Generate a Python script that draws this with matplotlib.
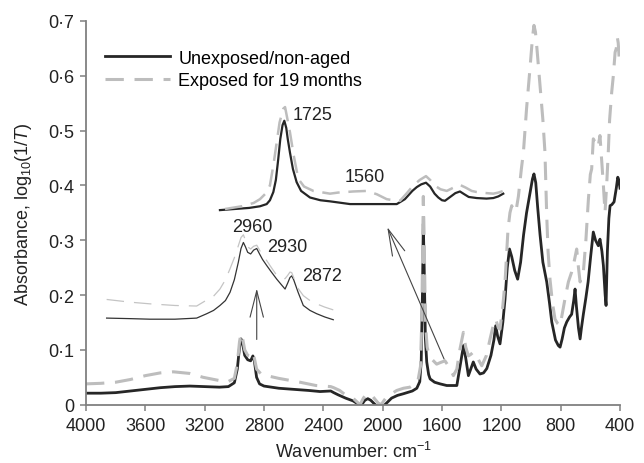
import matplotlib
matplotlib.use("Agg")
import matplotlib.pyplot as plt
from matplotlib.ticker import FuncFormatter

plt.rcParams["font.family"] = ["Liberation Sans", "DejaVu Sans"]
plt.rcParams["mathtext.fontset"] = "custom"
plt.rcParams["mathtext.rm"] = "Liberation Sans"
plt.rcParams["mathtext.it"] = "Liberation Sans:italic"

# full spectra (wavenumber, absorbance)
wn_unexp = [4000, 3900, 3800, 3700, 3600, 3500, 3400, 3300, 3200, 3100, 3040, 3000, 2980, 2965,
            2955, 2945, 2930, 2910, 2890, 2875, 2865, 2850, 2830, 2800, 2700, 2600, 2500, 2422,
            2350, 2330, 2300, 2250, 2200, 2170, 2150, 2120, 2100, 2080, 2050, 2020, 2000, 1970,
            1940, 1900, 1860, 1800, 1770, 1750, 1740, 1732, 1726, 1720, 1712, 1703, 1690, 1680,
            1650, 1613, 1568, 1500, 1478, 1455, 1440, 1422, 1400, 1389, 1370, 1344, 1320, 1298,
            1270, 1250, 1238, 1225, 1209, 1190, 1175, 1160, 1145, 1130, 1110, 1090, 1070, 1050,
            1030, 1007, 990, 980, 968, 955, 939, 920, 894, 875, 860, 835, 816, 804, 790, 775, 759,
            740, 726, 712, 703, 694, 680, 669, 660, 647, 630, 615, 598, 580, 565, 546, 535, 522,
            512, 500, 494, 485, 475, 467, 455, 440, 425, 415, 408, 400]
abs_unexp = [0.021, 0.021, 0.022, 0.025, 0.028, 0.031, 0.033, 0.034, 0.033, 0.032, 0.033, 0.040,
             0.065, 0.105, 0.120, 0.112, 0.090, 0.082, 0.080, 0.089, 0.080, 0.050, 0.038, 0.034,
             0.030, 0.028, 0.026, 0.024, 0.025, 0.022, 0.018, 0.012, 0.007, 0.002, -0.003, 0.008,
             0.011, 0.008, 0.000, -0.005, -0.004, 0.004, 0.012, 0.017, 0.020, 0.025, 0.030, 0.042,
             0.080, 0.200, 0.330, 0.250, 0.120, 0.078, 0.055, 0.047, 0.041, 0.038, 0.035, 0.035,
             0.071, 0.108, 0.085, 0.053, 0.070, 0.078, 0.065, 0.056, 0.058, 0.066, 0.090, 0.118,
             0.144, 0.125, 0.111, 0.150, 0.193, 0.250, 0.284, 0.270, 0.245, 0.229, 0.260, 0.310,
             0.350, 0.385, 0.412, 0.421, 0.405, 0.360, 0.310, 0.260, 0.224, 0.185, 0.151, 0.118,
             0.108, 0.105, 0.120, 0.140, 0.151, 0.160, 0.165, 0.190, 0.211, 0.180, 0.140, 0.120,
             0.140, 0.165, 0.195, 0.224, 0.270, 0.315, 0.300, 0.290, 0.302, 0.280, 0.254, 0.200,
             0.181, 0.280, 0.340, 0.363, 0.365, 0.370, 0.395, 0.415, 0.410, 0.395]

wn_exp = [4000, 3900, 3800, 3700, 3600, 3500, 3411, 3300, 3211, 3100, 3050, 3000, 2980, 2965, 2955,
          2945, 2930, 2910, 2890, 2875, 2865, 2850, 2820, 2782, 2700, 2557, 2450, 2350, 2330, 2290,
          2242, 2200, 2153, 2130, 2108, 2085, 2064, 2030, 2010, 1990, 1973, 1940, 1905, 1860, 1816,
          1780, 1762, 1745, 1736, 1730, 1726, 1720, 1712, 1700, 1692, 1665, 1636, 1610, 1580, 1550,
          1523, 1500, 1480, 1456, 1440, 1422, 1405, 1389, 1360, 1332, 1300, 1276, 1250, 1238, 1220,
          1209, 1190, 1175, 1155, 1142, 1130, 1115, 1100, 1085, 1065, 1051, 1030, 1007, 990, 980,
          970, 960, 939, 920, 906, 894, 885, 872, 855, 838, 820, 804, 790, 771, 748, 726, 710, 692,
          680, 669, 658, 647, 630, 613, 600, 591, 580, 570, 560, 546, 535, 523, 512, 501, 490, 479,
          470, 456, 445, 433, 425, 418, 412, 404, 400]
abs_exp = [0.038, 0.039, 0.041, 0.046, 0.053, 0.058, 0.060, 0.057, 0.050, 0.044, 0.041, 0.048,
           0.075, 0.115, 0.130, 0.122, 0.100, 0.090, 0.088, 0.095, 0.085, 0.065, 0.056, 0.053,
           0.048, 0.041, 0.035, 0.033, 0.031, 0.026, 0.016, 0.012, 0.000, 0.012, 0.020, 0.018,
           0.014, 0.003, 0.000, 0.008, 0.014, 0.020, 0.026, 0.030, 0.032, 0.038, 0.044, 0.070,
           0.160, 0.290, 0.380, 0.300, 0.150, 0.105, 0.096, 0.082, 0.074, 0.077, 0.080, 0.068,
           0.053, 0.065, 0.100, 0.132, 0.105, 0.089, 0.092, 0.096, 0.085, 0.071, 0.090, 0.120,
           0.150, 0.156, 0.140, 0.138, 0.180, 0.224, 0.320, 0.350, 0.363, 0.352, 0.355, 0.380,
           0.430, 0.461, 0.540, 0.613, 0.670, 0.692, 0.680, 0.650, 0.582, 0.520, 0.461, 0.345,
           0.280, 0.229, 0.185, 0.156, 0.148, 0.144, 0.165, 0.193, 0.224, 0.242, 0.260, 0.284,
           0.250, 0.224, 0.235, 0.242, 0.300, 0.375, 0.420, 0.430, 0.485, 0.480, 0.470, 0.473,
           0.491, 0.443, 0.400, 0.351, 0.400, 0.461, 0.520, 0.570, 0.600, 0.643, 0.650, 0.670,
           0.660, 0.625, 0.620]

# magnified C-H stretch region (placed on the axes)
ch_pos = [3861, 3700, 3569, 3400, 3254, 3186, 3140, 3097, 3060, 3029, 3000, 2973, 2955, 2939,
          2925, 2910, 2890, 2870, 2849, 2830, 2810, 2782, 2750, 2714, 2680, 2658, 2640, 2625,
          2613, 2600, 2570, 2535, 2490, 2445, 2390, 2333]
ch_unexp = [0.158, 0.157, 0.156, 0.156, 0.158, 0.166, 0.172, 0.181, 0.190, 0.205, 0.228, 0.260,
            0.285, 0.296, 0.288, 0.278, 0.275, 0.282, 0.285, 0.275, 0.265, 0.254, 0.242, 0.229,
            0.218, 0.211, 0.222, 0.232, 0.235, 0.228, 0.205, 0.181, 0.172, 0.166, 0.160, 0.155]
ch_exp = [0.192, 0.187, 0.184, 0.181, 0.180, 0.191, 0.198, 0.211, 0.228, 0.248, 0.268, 0.290,
          0.305, 0.310, 0.300, 0.288, 0.284, 0.289, 0.291, 0.282, 0.272, 0.263, 0.250, 0.236,
          0.230, 0.230, 0.236, 0.242, 0.241, 0.232, 0.212, 0.199, 0.190, 0.184, 0.178, 0.173]

# magnified carbonyl region (placed on the axes)
co_pos_unexp = [3097, 3000, 2900, 2827, 2782, 2760, 2737, 2720, 2704, 2690, 2675, 2663, 2650,
                2640, 2625, 2605, 2580, 2550, 2490, 2420, 2355, 2220, 2100, 2000, 1905, 1850,
                1800, 1770, 1740, 1708, 1680, 1650, 1625, 1600, 1580, 1550, 1510, 1479, 1450,
                1420, 1366, 1300, 1254, 1220, 1187]
co_unexp = [0.355, 0.357, 0.359, 0.362, 0.366, 0.373, 0.388, 0.410, 0.448, 0.485, 0.510, 0.518,
            0.505, 0.485, 0.460, 0.430, 0.406, 0.390, 0.378, 0.373, 0.371, 0.366, 0.366, 0.366,
            0.366, 0.375, 0.390, 0.397, 0.402, 0.405, 0.398, 0.385, 0.378, 0.373, 0.372, 0.378,
            0.386, 0.389, 0.384, 0.379, 0.377, 0.376, 0.377, 0.380, 0.385]
co_pos_exp = [3063, 2950, 2870, 2827, 2790, 2760, 2735, 2714, 2695, 2670, 2658, 2645, 2625, 2600,
              2569, 2530, 2467, 2422, 2355, 2300, 2198, 2108, 2040, 1973, 1930, 1883, 1840, 1793,
              1750, 1708, 1680, 1650, 1610, 1568, 1530, 1479, 1440, 1400, 1366, 1300, 1254, 1220,
              1187]
co_exp = [0.357, 0.362, 0.368, 0.375, 0.385, 0.400, 0.440, 0.479, 0.515, 0.540, 0.543, 0.525,
          0.497, 0.455, 0.412, 0.398, 0.390, 0.388, 0.385, 0.387, 0.389, 0.390, 0.384, 0.375,
          0.373, 0.372, 0.385, 0.400, 0.410, 0.417, 0.410, 0.400, 0.393, 0.390, 0.395, 0.401,
          0.396, 0.390, 0.388, 0.386, 0.385, 0.387, 0.390]

peak_labels = ["1725", "1560", "2960", "2930", "2872"]
peak_label_pos = [(2604, 0.530), (2254, 0.417), (3016, 0.326), (2780, 0.288), (2546, 0.235)]

DARK = "#262626"
GREY = "#bdbdbd"

fig = plt.figure(figsize=(6.44, 4.64), dpi=100)
ax = fig.add_axes([86 / 644, 1 - 405.7 / 464, 534 / 644, 383.7 / 464])

ax.plot(wn_unexp, abs_unexp, color=DARK, lw=2.0, label="Unexposed/non-aged")
ax.plot(wn_exp, abs_exp, color=GREY, lw=2.2, linestyle=(0, (6, 3.5)),
        label="Exposed for 19\u2009months")

ax.plot(ch_pos, ch_unexp, color="#333333", lw=0.9)
ax.plot(ch_pos, ch_exp, color="#c4c4c4", lw=0.9, linestyle=(0, (14, 8)))

ax.plot(co_pos_unexp, co_unexp, color=DARK, lw=1.6)
ax.plot(co_pos_exp, co_exp, color=GREY, lw=1.8, linestyle=(0, (7, 3.5)))

for txt, (px, py) in zip(peak_labels, peak_label_pos):
    ax.text(px, py, txt, fontsize=13, ha="left", va="center", color="#222222")

arrow_kw = dict(arrowstyle="->,head_length=0.95,head_width=0.24", lw=0.8,
                color="#444444", mutation_scale=20, shrinkA=0, shrinkB=0)
ax.annotate("", xy=(2849, 0.212), xytext=(2849, 0.119), arrowprops=arrow_kw)
ax.annotate("", xy=(1969, 0.324), xytext=(1586, 0.0834), arrowprops=arrow_kw)

ax.set_xlim(4000, 400)
ax.set_ylim(0, 0.7)
ax.set_xticks(range(4000, 399, -400))
ax.set_yticks([0, 0.1, 0.2, 0.3, 0.4, 0.5, 0.6, 0.7])
ax.yaxis.set_major_formatter(FuncFormatter(
    lambda v, p: "0" if abs(v) < 1e-9 else f"{v:.1f}".replace(".", "\u00b7")))

for side in ["top", "right"]:
    ax.spines[side].set_visible(False)
for side in ["left", "bottom"]:
    ax.spines[side].set_color("#808080")
    ax.spines[side].set_linewidth(1.3)
ax.tick_params(direction="out", length=4.5, width=1.1, color="#808080",
               labelsize=13, labelcolor="#222222", pad=4)

ax.set_xlabel("Wavenumber: cm$^{-1}$", fontsize=13, color="#222222", labelpad=5)
ax.set_ylabel("Absorbance, log$_{10}$(1/$T$)", fontsize=13, color="#222222", labelpad=10)

ax.legend(loc="upper left", bbox_to_anchor=(0.0356, 0.925), frameon=False, fontsize=13,
          handlelength=3.6, handletextpad=0.45, labelspacing=0.3, borderpad=0,
          borderaxespad=0)

fig.savefig("out.png", dpi=100)
